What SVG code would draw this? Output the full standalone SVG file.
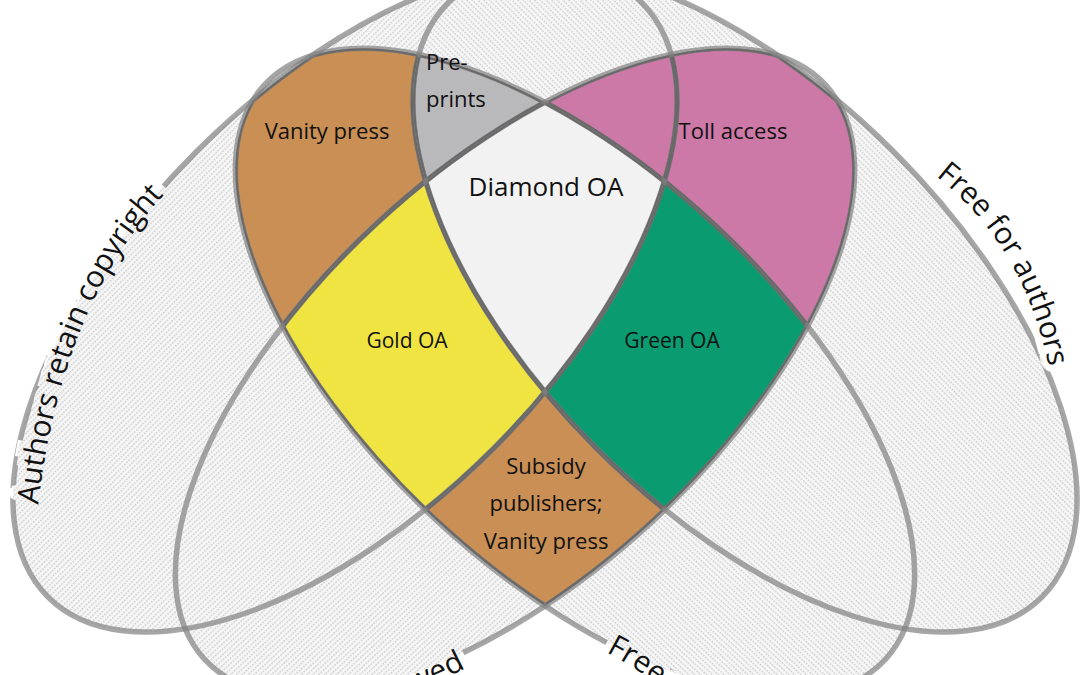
<svg xmlns="http://www.w3.org/2000/svg" xmlns:xlink="http://www.w3.org/1999/xlink" width="1080" height="675" viewBox="0 0 1080 675">
<style>
.lbl{font-family:"Open Sans","Noto Sans",sans-serif;font-size:22px;fill:#111;text-anchor:middle}
.big{font-family:"Open Sans","Noto Sans",sans-serif;font-size:30px}
.edge{fill:none;stroke:#333;stroke-width:4.5}
.ring{fill:none;stroke:#808080;stroke-opacity:0.7;stroke-width:5.5}
</style>
<defs>
<pattern id="hatch" width="3" height="4" patternUnits="userSpaceOnUse">
<rect width="3" height="4" fill="#f6f6f6"/><rect width="2" height="1.3" fill="#cfcfcf"/>
</pattern>
<ellipse id="eA" cx="345" cy="300" rx="420" ry="210" transform="rotate(-45 345 300)"/>
<ellipse id="eB" cx="745" cy="300" rx="420" ry="210" transform="rotate(45 745 300)"/>
<ellipse id="eC" cx="515" cy="372" rx="423" ry="203" transform="rotate(-42.8 515 372)"/>
<ellipse id="eD" cx="575" cy="372" rx="423" ry="203" transform="rotate(42.8 575 372)"/>
<mask id="inA" maskUnits="userSpaceOnUse" x="0" y="0" width="1080" height="675"><use xlink:href="#eA" fill="#fff"/></mask>
<mask id="inB" maskUnits="userSpaceOnUse" x="0" y="0" width="1080" height="675"><use xlink:href="#eB" fill="#fff"/></mask>
<mask id="inC" maskUnits="userSpaceOnUse" x="0" y="0" width="1080" height="675"><use xlink:href="#eC" fill="#fff"/></mask>
<mask id="inD" maskUnits="userSpaceOnUse" x="0" y="0" width="1080" height="675"><use xlink:href="#eD" fill="#fff"/></mask>
<mask id="outA" maskUnits="userSpaceOnUse" x="0" y="0" width="1080" height="675"><rect width="1080" height="675" fill="#fff"/><use xlink:href="#eA" fill="#000"/></mask>
<mask id="outB" maskUnits="userSpaceOnUse" x="0" y="0" width="1080" height="675"><rect width="1080" height="675" fill="#fff"/><use xlink:href="#eB" fill="#000"/></mask>
<mask id="outC" maskUnits="userSpaceOnUse" x="0" y="0" width="1080" height="675"><rect width="1080" height="675" fill="#fff"/><use xlink:href="#eC" fill="#000"/></mask>
<mask id="outD" maskUnits="userSpaceOnUse" x="0" y="0" width="1080" height="675"><rect width="1080" height="675" fill="#fff"/><use xlink:href="#eD" fill="#000"/></mask>
<path id="pA" d="M 36,528 Q 56,300 180,178"/>
<path id="pB" d="M 910,158 Q 1032,235 1054,398"/>
<path id="pC" d="M 215,746 Q 345,730 466,668"/>
<path id="pD" d="M 606,652 Q 688,695 745,775"/>
<g id="outer" class="big">
<text><textPath xlink:href="#pA" startOffset="50%" text-anchor="middle">Authors retain copyright</textPath></text>
<text><textPath xlink:href="#pB" startOffset="50%" text-anchor="middle">Free for authors</textPath></text>
<text><textPath xlink:href="#pC" startOffset="100%" text-anchor="end">Peer reviewed</textPath></text>
<text><textPath xlink:href="#pD" startOffset="0">Free for readers</textPath></text>
</g>
<mask id="gap" maskUnits="userSpaceOnUse" x="0" y="0" width="1080" height="675">
<rect width="1080" height="675" fill="#fff"/>
<use xlink:href="#outer" fill="#000" stroke="#000" stroke-width="14"/>
</mask>
<g id="edges"><use xlink:href="#eA" class="edge"/><use xlink:href="#eB" class="edge"/><use xlink:href="#eC" class="edge"/><use xlink:href="#eD" class="edge"/></g>
</defs>
<rect width="1080" height="675" fill="#fff"/>
<g id="background">
<use xlink:href="#eA" fill="url(#hatch)"/><use xlink:href="#eB" fill="url(#hatch)"/><use xlink:href="#eC" fill="url(#hatch)"/><use xlink:href="#eD" fill="url(#hatch)"/>
</g>
<g id="diamond" mask="url(#inA)"><g mask="url(#inB)"><g mask="url(#inC)"><g mask="url(#inD)"><rect width="1080" height="675" fill="#f2f2f2"/><use xlink:href="#edges"/></g></g></g></g>
<g id="vanity" mask="url(#inA)"><g mask="url(#inD)"><g mask="url(#outB)"><g mask="url(#outC)"><rect width="1080" height="675" fill="#c98f55"/><use xlink:href="#edges"/></g></g></g></g>
<g id="preprints" mask="url(#inA)"><g mask="url(#inB)"><g mask="url(#inD)"><g mask="url(#outC)"><rect width="1080" height="675" fill="#b9b9bb"/><use xlink:href="#edges"/></g></g></g></g>
<g id="toll" mask="url(#inB)"><g mask="url(#inC)"><g mask="url(#outD)"><rect width="1080" height="675" fill="#cc79a7"/><use xlink:href="#edges"/></g></g></g>
<g id="gold" mask="url(#inA)"><g mask="url(#inC)"><g mask="url(#inD)"><g mask="url(#outB)"><rect width="1080" height="675" fill="#f0e442"/><use xlink:href="#edges"/></g></g></g></g>
<g id="green" mask="url(#inB)"><g mask="url(#inC)"><g mask="url(#inD)"><g mask="url(#outA)"><rect width="1080" height="675" fill="#0a9b70"/><use xlink:href="#edges"/></g></g></g></g>
<g id="subsidy" mask="url(#inC)"><g mask="url(#inD)"><g mask="url(#outA)"><g mask="url(#outB)"><rect width="1080" height="675" fill="#c98f55"/><use xlink:href="#edges"/></g></g></g></g>
<g id="connectors" mask="url(#gap)">
<use xlink:href="#eA" class="ring"/><use xlink:href="#eB" class="ring"/><use xlink:href="#eC" class="ring"/><use xlink:href="#eD" class="ring"/>
</g>
<g id="labels">
<text class="lbl" x="327" y="139">Vanity press</text>
<text class="lbl" x="426" y="70" style="text-anchor:start">Pre-</text>
<text class="lbl" x="426" y="107" style="text-anchor:start">prints</text>
<text class="lbl" x="733" y="139">Toll access</text>
<text class="lbl" x="546" y="196" style="font-size:26px">Diamond OA</text>
<text class="lbl" x="407" y="348" style="font-size:21px">Gold OA</text>
<text class="lbl" x="672" y="348" style="font-size:21px">Green OA</text>
<text class="lbl" x="546" y="474">Subsidy</text>
<text class="lbl" x="546" y="511">publishers;</text>
<text class="lbl" x="546" y="549">Vanity press</text>
</g>
<use id="outer-labels" xlink:href="#outer" fill="#111"/>
</svg>
